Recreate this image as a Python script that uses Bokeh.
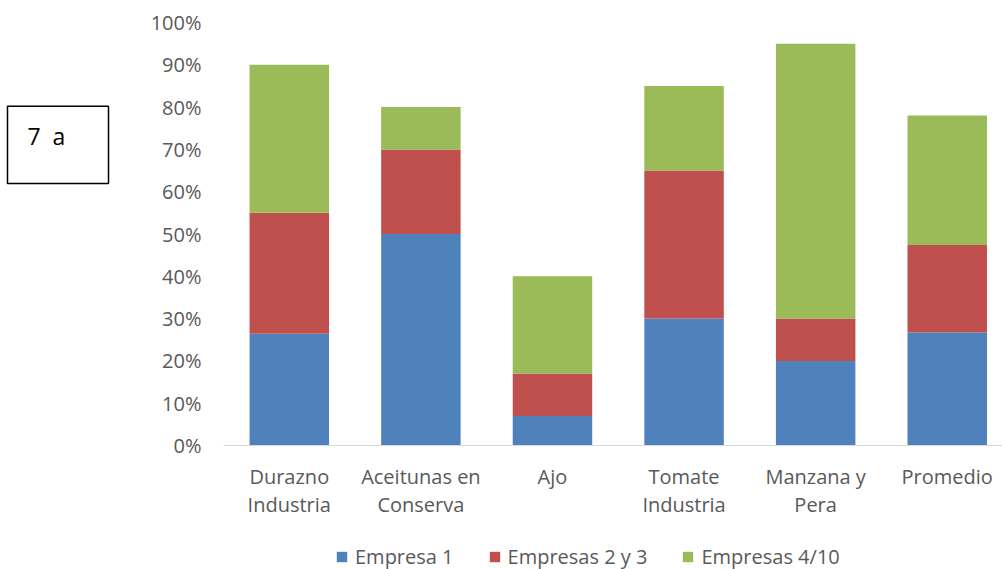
from bokeh.plotting import figure
from bokeh.layouts import row, column
from bokeh.models import (ColumnDataSource, Range1d, FixedTicker, NumeralTickFormatter,
                          Legend, LegendItem, BoxAnnotation, Label)
from bokeh.embed import file_html
from bokeh.resources import INLINE

# Share of each group of companies, per product
categories = ["Durazno\nIndustria", "Aceitunas en\nConserva", "Ajo",
              "Tomate\nIndustria", "Manzana y\nPera", "Promedio"]
empresa_1 = [0.264, 0.50, 0.07, 0.30, 0.20, 0.267]
empresas_2_3 = [0.286, 0.20, 0.10, 0.35, 0.10, 0.207]
empresas_4_10 = [0.35, 0.10, 0.23, 0.20, 0.65, 0.306]

series = ["empresa_1", "empresas_2_3", "empresas_4_10"]
series_labels = ["Empresa 1", "Empresas 2 y 3", "Empresas 4/10"]
colors = ["#4F81BD", "#C0504D", "#9BBB59"]
y_ticks = [i / 10 for i in range(11)]
tag = "7\u00a0\u00a0a"

FONT = "Open Sans"
GREY = "#595959"

xs = list(range(len(categories)))
source = ColumnDataSource(dict(x=xs, empresa_1=empresa_1,
                               empresas_2_3=empresas_2_3,
                               empresas_4_10=empresas_4_10))


def bare(fig):
    fig.outline_line_color = None
    fig.xgrid.visible = False
    fig.ygrid.visible = False
    fig.xaxis.visible = False
    fig.yaxis.visible = False
    return fig


# --- main stacked bar chart ---
p = figure(width=882, height=530, output_backend="svg", toolbar_location=None,
           x_range=Range1d(-0.5, 5.42), y_range=Range1d(0, 1),
           min_border_left=103, min_border_right=0, min_border_top=22,
           min_border_bottom=85)
p.outline_line_color = None
p.xgrid.visible = False
p.ygrid.visible = False

p.vbar_stack(series, x="x", width=0.604, color=colors, line_color=None,
             source=source)

# x axis: product names under each bar
p.xaxis.ticker = FixedTicker(ticks=xs)
p.xaxis.major_label_overrides = {i: c for i, c in enumerate(categories)}
p.xaxis.major_tick_line_color = None
p.xaxis.minor_tick_line_color = None
p.xaxis.axis_line_color = "#D9D9D9"
p.xaxis.major_label_standoff = 11
p.xaxis.major_label_text_font = FONT
p.xaxis.major_label_text_font_size = "20px"
p.xaxis.major_label_text_color = GREY
p.xaxis.major_label_text_line_height = 1.04

# y axis: percentages
p.yaxis.ticker = FixedTicker(ticks=y_ticks)
p.yaxis.formatter = NumeralTickFormatter(format="0%")
p.yaxis.axis_line_color = None
p.yaxis.major_tick_line_color = None
p.yaxis.minor_tick_line_color = None
p.yaxis.major_label_standoff = 16
p.yaxis.major_label_text_font = FONT
p.yaxis.major_label_text_font_size = "20px"
p.yaxis.major_label_text_color = GREY

# --- boxed panel tag on the left ---
# the row aligns this frame with the chart frame (22..445 px), so the
# flipped y range below maps one data unit to one pixel from the top
t = bare(figure(width=120, height=530, output_backend="svg", toolbar_location=None,
                x_range=Range1d(0, 120), y_range=Range1d(445, 22),
                min_border=0))
t.add_layout(BoxAnnotation(left=7, right=108, top=105.7, bottom=183,
                           fill_alpha=0, line_color="black", line_alpha=1,
                           line_width=1.5))
t.add_layout(Label(x=27, y=135, text=tag, text_font=FONT, text_font_size="23px",
                   text_color="black", text_baseline="middle"))

# --- legend strip along the bottom ---
# the strip holds the same stacked bars, kept outside its visible range,
# so that the legend swatches take their colours from them
lg = bare(figure(width=1002, height=39, output_backend="svg", toolbar_location=None,
                 x_range=Range1d(-20, -19), y_range=Range1d(0, 1), min_border=0))
swatches = lg.vbar_stack(series, x="x", width=0.604, color=colors,
                         line_color=None, source=source)
legend = Legend(items=[LegendItem(label=lab, renderers=[r])
                       for lab, r in zip(series_labels, swatches)],
                orientation="horizontal", location=(335, -1),
                glyph_width=13, glyph_height=13, label_standoff=7, spacing=34,
                padding=0, margin=0, border_line_alpha=0,
                background_fill_alpha=0,
                label_text_font=FONT, label_text_font_size="20px",
                label_text_color=GREY)
lg.add_layout(legend)

layout = column(row(t, p), lg)
open("out.html", "w").write(file_html(layout, INLINE))
